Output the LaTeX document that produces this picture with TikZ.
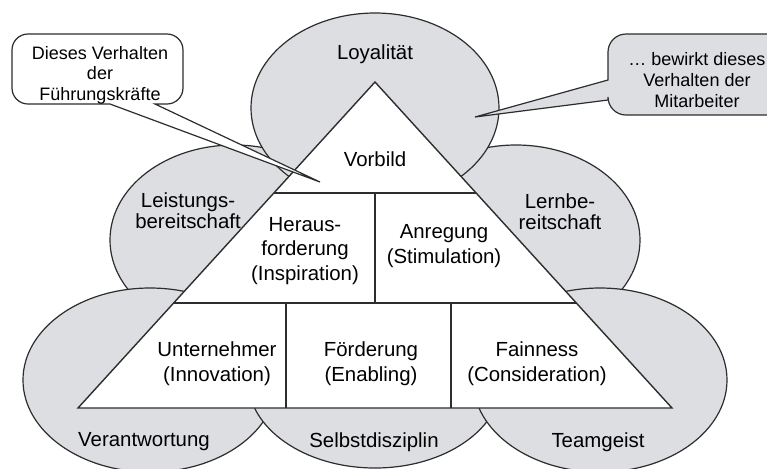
\documentclass[tikz,border=0pt]{standalone}
\usepackage{fontspec}
\setmainfont{Liberation Sans}
\usetikzlibrary{calc}
\definecolor{ovalgray}{RGB}{221,222,226}
\definecolor{linegray}{RGB}{45,45,45}

\begin{document}
\begin{tikzpicture}[x=0.5pt, y=-0.5pt,
  oval/.style={draw=linegray, fill=ovalgray, line width=0.6pt},
  tri/.style={draw=linegray, fill=white, line width=0.7pt},
  sep/.style={draw=linegray, line width=0.6pt},
  lbl/.style={align=center, inner sep=0pt, font=\fontsize{10.2}{12.4}\selectfont},
  olbl/.style={align=center, inner sep=0pt, font=\fontsize{10.2}{10.3}\selectfont},
  bubble/.style={draw=linegray, line width=0.6pt},
  btext/.style={align=center, inner sep=0pt, font=\fontsize{9}{10.3}\selectfont}
]
  \useasboundingbox (0,0) rectangle (767,468);
  \clip (0,0) rectangle (767,468);
  % Ellipsen (Verhalten der Mitarbeiter)
  \draw[oval] (234,240) ellipse [x radius=124, y radius=95];
  \draw[oval] (516,240) ellipse [x radius=124, y radius=95];
  \draw[oval] (375,108) ellipse [x radius=124, y radius=95];
  \draw[oval] (150,380) ellipse [x radius=127, y radius=92];
  \draw[oval] (375,380) ellipse [x radius=127, y radius=88];
  \draw[oval] (600,380) ellipse [x radius=127, y radius=92];
  % Dreieck (Verhalten der Fuehrungskraefte)
  \coordinate (top) at (375,82);
  \coordinate (bl)  at (78,408);
  \coordinate (br)  at (672,408);
  \draw[tri] (bl) -- (top) -- (br) -- cycle;
  \coordinate (l1) at ($(top)!0.3405!(bl)$);
  \coordinate (r1) at ($(top)!0.3405!(br)$);
  \coordinate (l2) at ($(top)!0.678!(bl)$);
  \coordinate (r2) at ($(top)!0.678!(br)$);
  \draw[sep] (l1) -- (r1);
  \draw[sep] (l2) -- (r2);
  \draw[sep] (375,193) -- (375,303);
  \draw[sep] (286,303) -- (286,408);
  \draw[sep] (451,303) -- (451,408);
  % Sprechblasen
  \coordinate (tipl) at (320,182);
  \coordinate (tipr) at (475,117);
  \draw[bubble, fill=white] (tipl) -- (110,104) [rounded corners=8] -- (12,104)
    -- (12,34) -- (183,34) -- (183,104) [sharp corners] -- (155,104) -- cycle;
  \draw[bubble, fill=ovalgray] (tipr) -- (608,100) [rounded corners=9] -- (608,115)
    -- (800,115) -- (800,34) -- (608,34) [sharp corners] -- (608,80) -- cycle;
  \node[btext] (fk) at (100,75) {Dieses Verhalten\\der\\Führungskräfte};
  \node[btext] (ma) at (697,80) {… bewirkt dieses\\Verhalten der\\Mitarbeiter};
  % Beschriftung
  \node[olbl] (loy)  at (375,54)  {Loyalität};
  \node[olbl] (leis) at (188,211) {Leistungs-\\bereitschaft};
  \node[olbl] (lern) at (560,212) {Lernbe-\\reitschaft};
  \node[olbl] (vera) at (144,442) {Verantwortung};
  \node[olbl] (selb) at (374,442) {Selbstdisziplin};
  \node[olbl] (team) at (598,442) {Teamgeist};
  \node[lbl]  (vorb) at (375,159) {Vorbild};
  \node[lbl]  (hera) at (305,251) {Heraus-\\forderung\\(Inspiration)};
  \node[lbl]  (anre) at (444,246) {Anregung\\(Stimulation)};
  \node[lbl]  (unte) at (217,364) {Unternehmer\\(Innovation)};
  \node[lbl]  (foer) at (371,364) {Förderung\\(Enabling)};
  \node[lbl]  (fair) at (537,364) {Fainness\\(Consideration)};
\end{tikzpicture}
\end{document}
